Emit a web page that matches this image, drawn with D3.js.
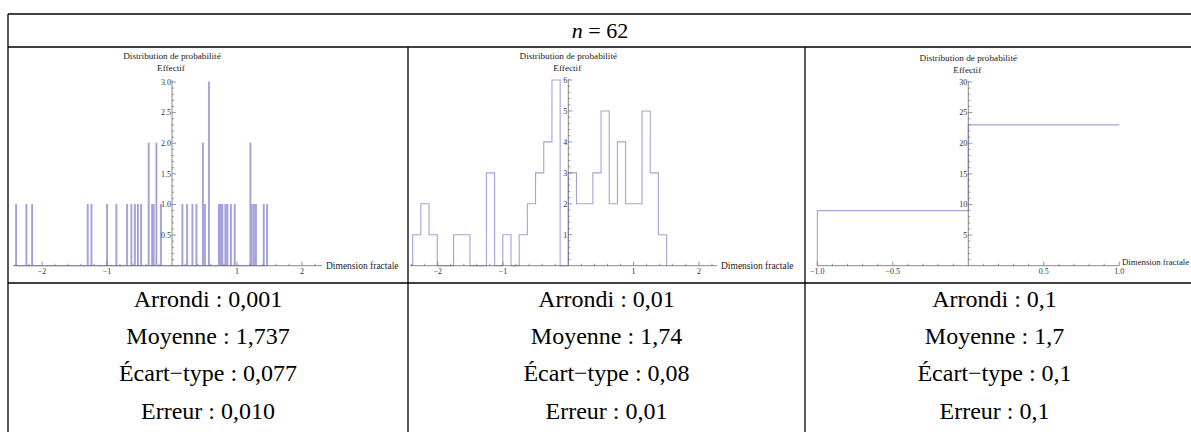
<!DOCTYPE html>
<html>
<head>
<meta charset="utf-8">
<script src="https://cdn.jsdelivr.net/npm/d3@7"></script>
<style>
  html, body { margin: 0; padding: 0; background: #ffffff; }
  svg { display: block; }
</style>
</head>
<body>
<svg id="chart" width="1191" height="432" font-family="'Liberation Serif', 'DejaVu Serif', serif"></svg>
<script>
// ---------------- DATA ----------------
const headerN = 62;

// Panel 1 (Arrondi 0,001): left edges of non-empty bins (standardised units) and counts
const p1BinWidth = 0.013;
const p1Edges  = [-2.405, -2.246, -2.158, -1.303, -1.246, -1.005, -0.862, -0.697, -0.631, -0.577,
                  -0.531, -0.482, -0.365, -0.312, -0.288, -0.246, -0.177,
                   0.154,  0.226,  0.308,  0.369,  0.469,  0.500,  0.562,  0.715,  0.734,
                   0.749,  0.769,  0.815,  0.846,  0.900,  0.958,  1.200,  1.220,  1.254,
                   1.285,  1.405,  1.457];
const p1Counts = [1, 1, 1, 1, 1, 1, 1, 1, 1, 1,
                  1, 1, 2, 1, 1, 2, 1,
                  1, 1, 1, 1, 2, 1, 3, 1, 1,
                  1, 1, 1, 1, 1, 1, 2, 1, 1,
                  1, 1, 1];

// Panel 2 (Arrondi 0,01)
const p2BinWidth = 0.1254;
const p2Edges  = [-2.383, -2.258, -2.132, -2.007, -1.881, -1.756, -1.630, -1.505, -1.379, -1.254,
                  -1.128, -1.003, -0.877, -0.752, -0.627, -0.501, -0.376, -0.250, -0.125,  0.000,
                   0.125,  0.251,  0.376,  0.502,  0.627,  0.752,  0.878,  1.003,  1.129,  1.254,
                   1.380];
const p2Counts = [1, 2, 1, 0, 0, 1, 1, 0, 0, 3,
                  0, 1, 0, 1, 2, 3, 4, 6, 0, 3,
                  2, 2, 3, 5, 2, 4, 2, 2, 5, 3,
                  1];

// Panel 3 (Arrondi 0,1)
const p3BinWidth = 1;
const p3Edges  = [-1, 0];
const p3Counts = [9, 23];

// Tick values
const p1XMajor = [-2, -1, 1, 2];
const p1XLabels = ["\u22122", "\u22121", "1", "2"];
const p1YMajor = [0.5, 1.0, 1.5, 2.0, 2.5, 3.0];
const p1YLabels = ["0.5", "1.0", "1.5", "2.0", "2.5", "3.0"];
const p2XMajor = [-2, -1, 1, 2];
const p2XLabels = ["\u22122", "\u22121", "1", "2"];
const p2YMajor = [1, 2, 3, 4, 5, 6];
const p2YLabels = ["1", "2", "3", "4", "5", "6"];
const p3XMajor = [-1, -0.5, 0.5, 1];
const p3XLabels = ["\u22121.0", "\u22120.5", "0.5", "1.0"];
const p3YMajor = [5, 10, 15, 20, 25, 30];
const p3YLabels = ["5", "10", "15", "20", "25", "30"];

// Table texts
const arrondiTxt = ["Arrondi : 0,001", "Arrondi : 0,01", "Arrondi : 0,1"];
const moyenneTxt = ["Moyenne : 1,737", "Moyenne : 1,74", "Moyenne : 1,7"];
const ecartTxt   = ["\u00C9cart\u2212type : 0,077", "\u00C9cart\u2212type : 0,08", "\u00C9cart\u2212type : 0,1"];
const erreurTxt  = ["Erreur : 0,010", "Erreur : 0,01", "Erreur : 0,1"];

// ---------------- LAYOUT ----------------
const svg = d3.select("#chart");
const W = 1191, H = 432;
const tableLeft = 8, tableTop = 14, headerBottom = 47, plotBottom = 283;
const colX = [8, 408, 805, 1192];

const panels = [
  { edges: p1Edges, counts: p1Counts, w: p1BinWidth,
    xDom: [-2.446, 2.308], xRange: [13, 322], yDom: [0, 3], yRange: [265.7, 82], yTop: 80,
    xMajor: p1XMajor, xLabels: p1XLabels, xMinorStep: 0.2,
    yMajor: p1YMajor, yLabels: p1YLabels, yMinorStep: 0.1,
    axisLabelX: 326, axisLabelY: 268.5, axisLabelSize: 9.5, titleY: 59, effY: 70.5, openRight: false },
  { edges: p2Edges, counts: p2Counts, w: p2BinWidth,
    xDom: [-2.424, 2.277], xRange: [410, 717], yDom: [0, 6], yRange: [265.7, 80], yTop: 79,
    xMajor: p2XMajor, xLabels: p2XLabels, xMinorStep: 0.2,
    yMajor: p2YMajor, yLabels: p2YLabels, yMinorStep: 0.2,
    axisLabelX: 721, axisLabelY: 268.5, axisLabelSize: 9.5, titleY: 58.5, effY: 70.5, openRight: false },
  { edges: p3Edges, counts: p3Counts, w: p3BinWidth,
    xDom: [-1, 1], xRange: [817.3, 1119.3], yDom: [0, 30], yRange: [265.7, 82], yTop: 81,
    xMajor: p3XMajor, xLabels: p3XLabels, xMinorStep: 0.1,
    yMajor: p3YMajor, yLabels: p3YLabels, yMinorStep: 1,
    axisLabelX: 1122, axisLabelY: 264.5, axisLabelSize: 8.8, titleY: 60.5, effY: 72.5, openRight: true }
];

const barColor = "#a3a3da";
const axisColor = "#6a6a6a";
const tickTextColor = "#333333";

function range(a, b, step) {
  const out = [];
  const n = Math.round((b - a) / step);
  for (let i = 0; i <= n; i++) out.push(+(a + i * step).toFixed(6));
  return out;
}

panels.forEach((p, idx) => {
  const x = d3.scaleLinear().domain(p.xDom).range(p.xRange);
  const y = d3.scaleLinear().domain(p.yDom).range(p.yRange);
  const g = svg.append("g");
  const x0 = x(0), y0 = y(0);

  // histogram step outline
  const pts = [];
  for (let i = 0; i < p.edges.length; i++) {
    const e = p.edges[i], c = p.counts[i], r = e + p.w;
    if (i === 0) pts.push([e, 0]);
    else {
      const prevEnd = p.edges[i - 1] + p.w;
      if (Math.abs(prevEnd - e) > 1e-3) { pts.push([prevEnd, 0]); pts.push([e, 0]); }
    }
    pts.push([e, c]); pts.push([r, c]);
    if (i === p.edges.length - 1 && !p.openRight) pts.push([r, 0]);
  }
  const line = d3.line().x(d => x(d[0])).y(d => y(d[1]));
  g.append("path").attr("d", line(pts))
    .attr("fill", "none").attr("stroke", barColor).attr("stroke-width", 1.1);

  // x axis line
  g.append("line").attr("x1", p.xRange[0]).attr("x2", p.xRange[1])
    .attr("y1", y0).attr("y2", y0).attr("stroke", axisColor).attr("stroke-width", 0.8);
  // y axis line
  g.append("line").attr("x1", x0).attr("x2", x0)
    .attr("y1", y0).attr("y2", p.yTop).attr("stroke", axisColor).attr("stroke-width", 0.8);

  // x ticks (minor + major), pointing up
  const lo = Math.ceil(p.xDom[0] / p.xMinorStep) * p.xMinorStep;
  range(lo, p.xDom[1], p.xMinorStep).forEach(v => {
    if (Math.abs(v) < 1e-9 || v > p.xDom[1] + 1e-9 || v < p.xDom[0] - 1e-9) return;
    const major = p.xMajor.some(m => Math.abs(m - v) < 1e-6);
    g.append("line").attr("x1", x(v)).attr("x2", x(v))
      .attr("y1", y0).attr("y2", y0 - (major ? 4 : 2))
      .attr("stroke", axisColor).attr("stroke-width", 0.7);
  });
  p.xMajor.forEach((v, i) => {
    g.append("text").attr("x", x(v)).attr("y", y0 + 8.5)
      .attr("text-anchor", "middle").attr("font-size", 8)
      .attr("fill", tickTextColor).text(p.xLabels[i]);
  });

  // y ticks pointing right
  range(p.yMinorStep, p.yDom[1], p.yMinorStep).forEach(v => {
    const major = p.yMajor.some(m => Math.abs(m - v) < 1e-6);
    g.append("line").attr("x1", x0).attr("x2", x0 + (major ? 4 : 2))
      .attr("y1", y(v)).attr("y2", y(v))
      .attr("stroke", axisColor).attr("stroke-width", 0.7);
  });
  p.yMajor.forEach((v, i) => {
    g.append("text").attr("x", x0 - 1).attr("y", y(v) + 2.8)
      .attr("text-anchor", "end").attr("font-size", 8)
      .attr("fill", tickTextColor).text(p.yLabels[i]);
  });

  // titles
  g.append("text").attr("x", x0).attr("y", p.titleY)
    .attr("text-anchor", "middle").attr("font-size", 9.2).attr("fill", "#222")
    .text("Distribution de probabilit\u00E9");
  g.append("text").attr("x", x0 - 1).attr("y", p.effY)
    .attr("text-anchor", "middle").attr("font-size", 9.2).attr("fill", "#222")
    .text("Effectif");
  g.append("text").attr("x", p.axisLabelX).attr("y", p.axisLabelY)
    .attr("text-anchor", "start").attr("font-size", p.axisLabelSize).attr("fill", "#222")
    .text("Dimension fractale");
});

// ---------------- TABLE ----------------
const tg = svg.append("g").attr("stroke", "#000").attr("stroke-width", 1.3);
tg.append("line").attr("x1", tableLeft).attr("x2", W).attr("y1", tableTop).attr("y2", tableTop);
tg.append("line").attr("x1", tableLeft).attr("x2", W).attr("y1", headerBottom).attr("y2", headerBottom);
tg.append("line").attr("x1", tableLeft).attr("x2", W).attr("y1", plotBottom).attr("y2", plotBottom);
tg.append("line").attr("x1", tableLeft).attr("x2", tableLeft).attr("y1", tableTop).attr("y2", H);
[colX[1], colX[2]].forEach(cx => {
  tg.append("line").attr("x1", cx).attr("x2", cx).attr("y1", headerBottom).attr("y2", H);
});

// header
const head = svg.append("text").attr("x", (tableLeft + 1192) / 2).attr("y", 37.5)
  .attr("text-anchor", "middle").attr("font-size", 22).attr("fill", "#000");
head.append("tspan").attr("font-style", "italic").text("n");
head.append("tspan").text(" = " + headerN);

// stats rows
const rows = [arrondiTxt, moyenneTxt, ecartTxt, erreurTxt];
const rowBase = [306.5, 344, 381, 418.5];
rows.forEach((arr, r) => {
  arr.forEach((t, c) => {
    svg.append("text").attr("x", (colX[c] + colX[c + 1]) / 2 + (c === 2 ? -4 : 0))
      .attr("y", rowBase[r]).attr("text-anchor", "middle")
      .attr("font-size", 24).attr("fill", "#000").text(t);
  });
});
</script>
</body>
</html>
